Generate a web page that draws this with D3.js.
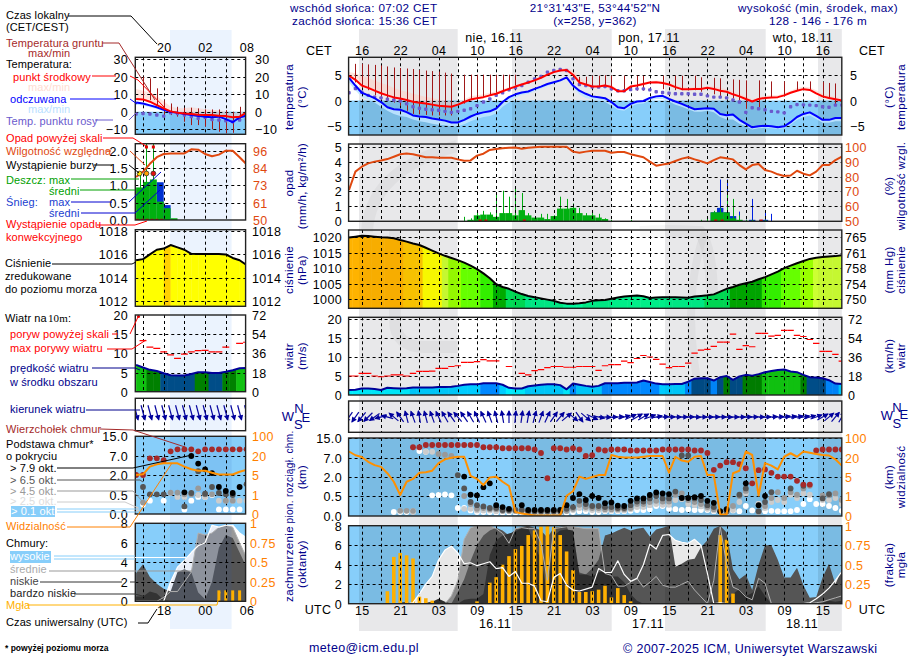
<!DOCTYPE html>
<html>
<head>
<meta charset="utf-8">
<script src="https://cdn.jsdelivr.net/npm/d3@7"></script>
<style>
  html, body { margin: 0; padding: 0; background: #fff; }
  svg text { font-family: "Liberation Sans", Arial, sans-serif; font-size: 12.5px; letter-spacing: .35px; }
  .axis path, .axis line { display: none; }
</style>
</head>
<body>
<svg id="chart" width="910" height="660"></svg>
<script>
// ---------- long forecast, one value per hour, hour 0 = 13 UTC 15.11 ----------
const temp = [4.8,4,2.9,2.45,1.9,1.4,1,.6,.4,.1,-.25,-.45,-.6,-.8,-1,-1.1,-1.2,-.8,-.3,.2,
  .45,.65,1,1.3,1.8,2.25,2.7,3.1,3.5,3.9,4.4,5,5.5,5.8,5.9,5,3.5,3.1,2.7,2.7,
  2.9,2.6,1.8,1.8,2.7,2.9,3.2,3.5,3.55,3.4,3.1,2.6,2.2,2.2,2.25,2.25,2.45,2.25,1.9,1.7,
  1.2,.8,.3,-.2,.3,.5,.6,.65,1,1.5,1.9,2.2,2.05,1.4,.8,.5,.25,0];
const tempMax = [5.5,5.3,4.8,4.4,3.9,3.4,3,2.4,2,1.7,1.3,1,.7,.5,.2,0,-.3,-.3,.2,.8,
  1,1.2,1.5,1.8,2.2,2.6,3,3.4,3.8,4.1,4.7,5.3,5.8,6.1,6.3,5.8,4.5,3.6,3.1,3,
  3.2,3,2.2,2.2,3,3.2,3.5,3.8,3.9,3.8,3.5,3,2.6,2.6,2.6,2.6,2.8,2.7,2.4,2.2,
  1.8,1.3,.8,.2,.6,.9,1,1,1.4,1.9,2.4,2.7,2.5,2,1.3,1,.7,.4];
const feel = [4.4,2.9,1.5,1,.45,-.3,-1.3,-1.7,-1.8,-2.25,-2.9,-3.1,-3.2,-3.5,-3.7,-3.9,-4.25,-4.25,-3.75,-3.1,
  -2.6,-2.3,-2.1,-1.55,-.3,.65,1.2,1.55,1.75,2.25,2.7,3.2,3.55,3.9,4.5,2.9,1.9,1.3,.8,.65,
  .45,-.3,-1.3,-1.5,-.65,-.2,-.1,.5,.8,.9,.3,-.2,-.65,-1.2,-1.7,-1.6,-1.5,-1.6,-2.6,-2.85,
  -2.7,-3.75,-4.5,-5.2,-5,-4.9,-5,-5.2,-5,-4.2,-3.2,-2.6,-2.3,-3,-3.75,-3.75,-3.4,-3.4];
const feelMin = [3.5,2,.7,.2,-.4,-1.2,-2,-2.6,-3,-3.2,-3.7,-4,-4.2,-4.5,-4.7,-4.8,-5,-5,-4.6,-4,
  -3.6,-3.2,-3,-2.5,-1.2,-.4,.6,1.1,1.3,1.8,2.3,2.8,3.2,3.6,4.1,2.4,1.2,.5,.2,0,
  -.3,-1,-1.8,-2,-1.2,-.7,-.6,0,.3,.3,-.2,-.8,-1.2,-1.7,-2.2,-2.2,-2,-2.3,-3.2,-3.7,
  -3.7,-4.5,-5,-5.6,-5.4,-5.3,-5.4,-5.5,-5.4,-4.7,-3.8,-3.2,-2.9,-3.6,-4.3,-4.3,-4,-4];
const dew = [1.5,2.3,1.6,1,.65,.5,.25,.1,-.1,-.65,-1.2,-1.5,-1.7,-1.8,-1.9,-2.1,-2.3,-2.1,-1.9,-1.6,
  -1,-.3,.3,1,1.5,2.05,2.45,2.9,3.55,4.2,4.65,5.5,5.8,6,5.8,4.2,3.1,2.9,2.6,2.6,
  2.7,2.25,1.9,1.9,2.1,2.25,2.25,2.05,1.7,1.55,1.4,1.3,1.3,1.3,1.2,1.2,.9,.65,.65,.5,
  .1,-.3,-2.3,-1.4,-1.6,-1.8,-2.1,-2.2,-2.4,-1.2,-.8,-.85,-.9,-1,-1.2,-1.3,-.9,-.9];
const groundMax = [null,7.1,7.1,7,6.9,6.8,6.6,6.4,6.3,6.2,6.1,5.9,5.8,5.7,5.6,5.4,5.2,null,5,5,
  5,5,5,5,5,5,5,null,null,null,null,null,null,null,null,null,4.6,4.6,4.8,4.8,
  4.9,4.8,null,4.8,null,4.8,4.8,null,null,4.8,null,4.8,4.8,null,4.8,4.5,null,4.4,4.3,null,
  4.1,4,3.9,null,3.9,null,3.7,null,3.7,null,3.7,null,3.7,null,3.6,3.4,3.3,null];
const groundMin = [null,3.5,2.5,2,1,.4,0,-.4,-1,-2,-2.6,-2.6,-2.8,-2.9,-2.9,-2.9,-2.9,null,-.6,.1,
  .5,.7,1.1,1.5,2,2.4,2.9,null,null,null,null,null,null,null,null,null,3.4,3,2.7,2.7,
  2.6,2.3,null,1.8,null,1.9,1.9,null,null,2.2,null,2,2,null,2,1.7,null,1.2,.8,null,
  .4,0,-1.6,null,-1.3,null,.5,null,.8,null,1.9,null,2,null,.5,.3,-1,null];

const humidity = [71,83.3,86.6,88.8,90,90.8,91.7,93.3,94.9,95.5,95,94,92.9,92.9,92.6,92.6,92.6,91.5,90.6,90.8,
  94,95.3,97.8,98.4,98.9,99.3,99.4,98.7,99.3,99.7,100,100,100,100,100,96.7,96,96.7,97.3,97.3,
  97.3,96,96.4,96.4,95,94,92.9,90,87.3,88,88.8,90.4,92,92.9,91.5,90.2,88.8,91,92.9,92.2,
  91.5,87.7,84.8,87.7,88.4,84.4,83.3,81.5,80.4,80.7,83.9,81.9,80.8,83.3,87.7,87.7,91,93.3];
const rainMean = [0,0,0,0,0,0,0,0,0,0,0,0,0,0,0,0,0,0,.02,.1,
  .4,.45,.45,.3,.55,.55,.4,.75,.4,.25,.25,.15,.35,.85,.85,.9,.55,.4,.4,.25,
  .15,.02,0,0,.02,0,0,0,0,0,0,0,0,0,0,0,.02,.6,.6,.6,
  .2,.1,0,.03,0,.03,0,0,0,0,0,0,0,0,0,0,0,0];
const rainMax = [0,0,0,0,0,0,0,0,0,0,0,0,0,0,0,0,0,0,.3,.2,
  .7,.7,.6,1.9,2.05,1.65,2.3,1.9,.55,.3,.5,.5,.4,1.65,1.5,1.2,.9,.55,.65,.5,
  .2,.1,0,0,.1,0,0,0,0,0,0,0,0,0,0,.1,.3,.7,.9,2,
  1.5,.4,.1,.1,.05,.1,0,0,0,0,0,0,0,0,0,0,0,0];
const snowMean = [0,0,0,0,0,0,0,0,0,0,0,0,0,0,0,0,0,0,0,0,
  0,0,0,0,0,0,0,0,0,0,0,0,0,0,0,0,0,0,0,0,
  0,0,0,0,0,0,0,0,0,0,0,0,0,0,0,0,0,.6,.9,.6,
  .35,.05,.03,.1,.02,.1,0,0,0,0,0,0,0,0,0,0,0,0];
const snowMax = [0,0,0,0,0,0,0,0,0,0,0,0,0,0,0,0,0,0,0,0,
  0,0,0,0,0,0,0,0,0,0,0,0,0,0,0,0,0,0,0,0,
  0,0,0,0,0,0,0,0,0,0,0,0,0,0,0,0,0,.3,2.8,2.8,
  .4,.65,.1,1.5,.1,.75,.5,0,0,0,0,0,0,0,0,0,0,0];
const convective = [20.5,21.4,27.4,57.3,58.3,64.4];

const pressure = [1019.9,1020.2,1020.5,1020.4,1020.2,1020,1019.9,1019.7,1019.1,1018.6,1018,1017.5,1016.6,1015.7,1014.8,1014,1013.3,1012.6,1011.8,1010.8,
  1009.7,1008.3,1006.7,1004.8,1003.9,1003.3,1002.4,1001.6,1001,1000.6,1000.2,999.8,999.4,998.8,998.5,998.5,998.6,998.9,999.4,999.6,
  999.7,1000.1,1000.5,1000.8,1001,1001.1,1000.9,1000.3,1000.5,1000.6,1000.6,1000.6,1000.5,1000.4,1000.8,1001,1001.2,1001.5,1002.4,1003.3,
  1003.9,1004.6,1005.1,1005.6,1006.4,1007.1,1008,1008.9,1010,1010.8,1011.6,1012.3,1013,1013.4,1013.6,1013.8,1013.9,1014.2];
const wind = [1.3,1.4,1.7,1.7,1.6,1.3,1.9,1.8,1.7,1.8,2,2,2,2,2.1,2.1,2.2,2.4,2.7,2.8,
  2.8,3.1,3.1,3.1,2.7,1.9,1.7,1.7,2.3,2.5,2.7,2.8,2.8,2.6,1.5,3,2.7,2.4,2.2,2.4,
  3.1,3.1,3.1,3.2,3.2,3.3,3.8,3.4,3,2.8,2.8,2.9,2.9,3.5,4.3,4.4,4.4,3.8,4.7,5,
  4,4.9,5.3,5.1,5.5,6,6.3,6.6,6.7,6.2,6,5.3,4.7,4.6,4.4,3.9,3,2.9];
const gust = [5,5,5.7,5.7,5,4.8,5,5.3,5.3,5,5.7,6.2,6.2,6.3,7,7,7.5,7.7,8.6,8.6,
  8.8,9.3,9,9,null,7.5,null,5.7,5.3,6.4,6.7,7.2,7.5,7.5,7.3,7.3,7.5,7.5,7.5,6.5,
  7.7,8,8,8.9,8.5,9.6,10.4,10,9.4,8.1,7.2,7.5,7.5,8.4,11,11.8,12,12.8,13.9,13.9,
  16,12,13,12.7,16.2,16.2,15.5,15.7,17,17,15.7,15.4,14.6,13.6,11.5,11.5,10.7,8.9];
const windDir = [215,215,220,225,235,255,285,310,325,345,340,350,345,340,335,330,325,320,325,330,
  335,335,340,345,350,0,5,8,10,15,20,25,35,40,50,130,145,130,115,100,
  95,90,85,75,65,60,60,70,80,85,88,90,90,88,92,90,90,88,90,92,
  90,90,88,88,90,88,85,85,82,82,80,80,75,70,60,50,40,30];

// cloud base heights in km, one list per cover class, null = no dot that hour
const cloudTop = [null,null,null,null,null,null,null,null,null,null,11.3,11.3,12.2,12.2,12.2,12.2,12.2,12.2,12.2,12.2,
  12.2,11.3,11.3,11.3,10.9,10.9,10.9,10.9,10.9,10.4,9,1.9,10.9,10.9,10.4,10.9,10.4,7.8,8.1,10.4,
  10,10.4,10.4,10.4,10,10,10,10,10,10.4,10.4,10.4,10.4,10.4,10,10,9,3.9,5,5.9,
  5.9,5.4,4.3,1.5,3.8,4,3.1,2.1,2.1,2.1,1.7,1.4,1.4,10,10.4,10.4,10.4,10.4];
const base79 = [null,null,null,null,null,null,null,null,null,null,null,null,null,null,null,null,null,null,2.1,.6,
  .55,1.2,1.5,.27,.22,.18,null,.27,.15,.15,.15,.15,.15,.15,.27,.45,.65,.4,.5,.45,
  .32,.34,.26,.25,.38,.44,.44,.58,.78,.7,.65,null,.45,.45,.47,.5,.38,.33,.12,.17,
  null,null,1.5,null,.27,.5,null,null,null,null,null,null,null,null,null,null,null,null];
const base65 = [null,null,null,null,null,null,null,null,null,null,null,null,null,null,null,null,null,2.5,1.1,.35,
  .27,.24,.2,.2,.15,.15,.15,.15,.12,.12,.12,.12,.12,.12,.18,.22,.38,.3,.25,.25,
  .22,.22,.2,.2,.27,.36,.36,.44,.5,.44,.44,.85,8,8,.44,.4,.27,.22,null,.12,
  null,.6,1.1,null,.12,.35,.8,null,null,1.1,null,1.3,null,null,.44,.65,null,null];
const base45 = [null,null,null,null,null,null,null,null,.13,.13,.13,null,null,null,8.6,8.3,7.8,null,.5,.3,
  .18,.2,.17,.17,.13,.13,.13,.13,.1,.1,.1,.1,.1,.1,.13,.18,.28,.22,.2,.2,
  .17,.17,.17,.17,.2,.3,.3,.35,.38,.36,.36,.6,.7,.4,.35,.3,.22,.17,null,.1,
  .25,.5,.9,null,.1,.25,.45,.8,.45,.8,.6,1.1,1.3,null,.55,.55,.7,.4];
const base25 = [null,null,null,null,null,null,null,null,null,null,.1,null,9.5,9.5,null,null,null,null,.18,.18,
  .14,.14,.14,.12,.12,.12,.12,.12,.1,.1,.1,.1,.1,.1,.12,.15,.2,.18,.15,.15,
  .14,.14,.14,.14,.17,.22,.22,.27,.3,.28,.28,.4,.42,.3,.27,.24,.18,.14,null,.1,
  .15,.35,.7,null,.3,.2,.35,.4,.35,.6,.45,.7,.6,null,.4,.4,.45,.3];
const base01 = [null,null,null,null,null,null,null,.1,.1,.1,.12,9.8,9.5,.55,.58,.62,.55,.2,.2,.14,
  .1,.1,.1,.09,.09,.09,.09,.09,.08,.08,.08,.08,.08,.08,.08,.1,.12,.12,.1,.1,
  .12,.12,.12,.12,.13,.15,.15,.17,.25,.25,.18,.17,.15,.17,.15,.15,.15,.12,null,.1,
  .14,.12,.25,.14,.3,.12,.13,.12,.12,.12,.15,.3,.42,.3,.3,.25,.2,.13];
const visibility = [46,31,24,17,14.4,13,8,4,1.2,4,4.6,8.3,8.7,10,16,19,21,25,25,5.9,
  4.6,3.3,4.9,5.3,4,3.1,.2,.12,.07,.03,.03,.03,.03,.03,1.05,2,5.3,4.6,5,6.5,
  6.5,32,25,22,22,22,25,28,28,28,8.4,25,18,17,25,28,6.5,6.5,.08,.08,
  8,9.9,46,32,1.1,16,14,11,25,39,25,46,41,36,32,30,19,14];

// cloud cover in oktas, fog as a fraction
const cloudHigh = [0,0,0,0,0,0,0,0,0,0,.1,1,2,2.8,4.5,5.5,5.9,5.2,4.1,4.2,
  3.9,4.1,4.3,3.6,3.7,2.8,3.3,2.1,2.1,1.8,.3,.2,2.7,3.1,1.9,1.4,1.3,1.5,1.7,3.6,
  3.2,3.2,4.4,3,2.3,2.6,4,6.1,5.6,7,7.1,6.5,6.3,6.2,6.6,6,3.1,0,.1,0,
  0,0,0,0,0,0,0,0,0,0,0,0,.1,.5,1,1.6,2.4,3.3];
const cloudMedium = [0,0,0,0,0,0,0,0,0,0,0,0,0,0,0,0,.8,2.4,6.6,7.8,
  8,8,8,7.7,7.2,6.2,7.7,7.8,7.7,7.7,6.2,2.4,7.7,7.8,7.9,7.9,7.8,7.7,7.7,7.7,
  3.1,2.9,1.8,1.8,2.2,2.6,1.7,2.2,2.8,1.9,1.7,1.7,2,2.3,1.4,.7,0,2.4,7.9,4.1,
  1.7,1.4,.7,.4,2.6,2.1,0,0,0,0,0,0,0,.1,.2,.4,.6,.8];
const cloudLow = [0,0,0,0,0,0,0,0,0,0,0,0,0,.1,.2,.1,0,1.2,2.5,4.4,
  6,7,7.5,7.8,7.5,7,7.6,7.9,8,7.8,7.5,6.8,7.8,7.9,8,6,3.2,3,3.6,4.5,
  7,7.2,7.5,7.8,7.5,7.7,7.8,6.9,7.6,7.8,8,3.8,4.1,4.5,4.6,5.8,6.5,7.7,8,7.3,
  3.5,2.5,3,1.4,4,6,6,4.5,2.7,2.7,3.7,1.9,.6,.7,2.7,4.1,2,3.5];
const cloudVeryLow = [0,0,0,0,0,0,0,0,.1,.2,0,0,.1,.2,.5,.2,0,0,.4,.5,
  .5,1,5,6.5,7,7.2,7.4,7.8,7.8,6,4.5,1,7,7.5,7.6,7.5,3,3,2.8,3.2,
  3.4,2.8,2.8,2.2,1,.3,0,0,0,0,0,0,0,0,0,0,0,.2,.2,.2,
  1,1.5,.8,1.1,1.8,.8,0,0,0,0,0,0,0,0,.1,.3,.2,.3];
const fog = [0,0,0,0,0,0,.16,.6,.65,.62,.58,.09,.07,.04,0,0,0,0,0,0,
  .03,0,.27,.34,.5,.61,.7,.74,.88,.94,.99,1,.98,.88,.67,.43,.15,.15,.16,.18,
  .23,.08,.2,.11,.03,0,0,0,0,0,0,0,0,0,0,0,0,0,.88,.82,
  .13,0,0,0,0,0,0,0,0,0,0,0,0,0,0,0,0,0];

const cetLabels = ['16','22','04','10','16','22','04','10','16','22','04','10','16'];
const utcLabels = ['15','21','03','09','15','21','03','09','15','21','03','09','15'];
const dayLabels = ['nie, 16.11','pon, 17.11','wto, 18.11'];
const dateLabels = ['16.11','17.11','18.11'];
const mmHgTicks = [750,754,758,761,765];
const visTicks = [0,1,5,20,100];
const cloudTicks = [0,.5,2,7,15];

// ---------- short forecast on the left, one value per hour, 14 .. 30 UTC ----------
const localTemp = [7.2,7,5.7,3.8,1.9,.2,-.6,-1,-1.3,-1.7,-1.9,-1.9,-2.3,-2.5,-3.2,-2.8,-.5];
const localTempMax = [13,12,11,9,6,3,2,2,2.5,2,1.5,1,1,0,-1,0,0];
const localFeel = [5.3,4.7,3.6,2.5,1.1,-.2,-.6,-1.3,-1.9,-2.5,-2.8,-3.2,-2.8,-4.2,-6,-3.2,-2.3];
const localFeelMin = [4,3.5,2.5,1.5,0,-1.2,-1.6,-2.3,-3,-3.5,-3.8,-4.2,-3.8,-5.2,-7,-4.2,-3.3];
const localDew = [-1.3,-1,-1.3,-1.9,-2.5,-.6,-1,-1.9,-2.8,-3.8,-3.2,-4.4,-4.7,-5.1,-5.7,-4.7,-4.4];
const localGroundMax = [null,19.9,19,13.3,6.6,4.7,2.8,2.3,2.3,1.9,1.3,1.3,1.3,.9,0,2.8,null];
const localGroundMin = [null,6.6,6.6,3.8,-1.9,-1.9,-2.8,-5.7,-7.6,-7.6,-8.5,-10,-11.4,-12.3,-12,-4.7,null];
const localHumidity = [78.5,82,87.3,91.7,93.8,94.2,94.2,94.2,96.9,96.7,93.8,92.3,93.4,96,96,91.7,87];
const localRainMean = [.94,1.1,1.17,.53,.34,.05,0,0,0,0,0,0,0,0,0,0,0];
const localSnowMean = [0,0,0,1.09,.43,0,0,0,0,0,0,0,0,0,0,0,0];
const localRainMax = [1.3,2.2,2.2,0,0,0,0,0,0,0,0,0,0,0,0,0,0];
const localOverScale = [15,16];
const localStorm = [14.5,15.5,16.5];
const localStormColors = ['#ffe000','#ffa000','#e01010'];
const localConvective = [14,14.7,15.4,16.1,16.8,17.5];
const localPressure = [1015.5,1015.6,1016,1016.4,1016.5,1016.8,1016.6,1016.4,1016.05,1016.03,1016.03,1016.03,1016.03,1016,1015.7,1015.5,1015.1];
const localWind = [7,6.3,5.7,5.4,4.8,4.3,4.2,4.2,4.6,5.1,5.1,4.9,4.9,5.2,5.6,6.1,6.2];
const localGust = [null,13.3,11.6,11.3,10.4,9.6,8.7,9.8,10.4,10.7,10.8,10.4,10.4,11.6,null,12.6,12.9];
const localWindDir = [165,165,165,165,165,165,165,165,165,165,165,165,165,165,165,165,165];
const localCloudTop = [2,2,6.4,6.4,5.9,8.9,9.7,9.7,9.7,8.9,9.7,9.7,9.7,9.7,9.7,9.7,9.7];
const localBase79 = [null,null,null,null,null,null,null,.7,7,5,3.5,2.5,1.1,.8,.65,1.1,null];
const localBase65 = [null,1.1,.55,.55,.55,null,null,.2,.65,3,.6,1.1,.65,.55,.5,null,1.3];
const localBase45 = [null,.3,null,null,null,.68,.68,.55,.55,1,.55,.55,null,.35,.35,null,null];
const localBase25 = [.12,null,null,null,null,.65,.45,.45,null,.5,.45,null,.35,.35,.35,.35,.35];
const localBase01 = [null,.25,.35,null,.35,null,null,.12,.35,.45,.45,.5,.12,.12,.12,.12,null];
const localVisibility = [5,5.5,11.6,13.4,14.2,14.2,14.2,11.6,9.5,8.4,8.4,6.8,5.4,5.4,5.4,7.6,9];
const localCloudHigh = [0,0,0,0,0,2,3.5,4.2,5,5.7,6,7.8,7.6,7.8,7.8,7,6.5];
const localCloudMedium = [0,0,0,0,.4,1,1,2,3,7,6.8,7,7.6,7.8,7.6,6,4.5];
const localCloudLow = [2.9,3.8,2.5,1.8,1.3,1,3,3.3,3,.9,.2,2,5.5,6.8,6.5,5,3.5];
const localCloudVeryLow = [.5,.5,1,.8,.1,0,0,0,0,0,0,0,0,0,0,0,0];
const localFog = [0,0,0,0,0,0,0,0,0,0,0,0,.14,.14,.14,.14,0];
const localCetLabels = ['20','02','08'];
const localUtcLabels = ['18','00','06'];

// ---------- scales ----------
const svg = d3.select('#chart');
const NAVY = '#00008b', RED = '#ff0000', BROWN = '#a52a2a', ORANGE = '#ff8000', RH = '#e0480f';
const NIGHT = [[359, 457.7], [512, 611.7], [665, 765.7], [818, 841.8]];

const hours = d3.range(temp.length);
const localHours = d3.range(14, 31);
const x = d3.scaleLinear().domain([0, 77]).range([349, 841.8]);
const xLocal = d3.scaleLinear().domain([15, 18]).range([143, 163.7]);

const gridMain = d3.range(2, 77, 3);
const gridLocal = [15,18,21,24,27];
const pressureColor = d3.scaleThreshold()
  .domain([998.8,1001.2,1003.5,1006.7,1009.7,1011.9,1013.4,1014.8,1017.5,1019.1])
  .range(['#00ffa0','#00ee88','#00dd55','#00aa00','#33ee00','#66ff00','#99ff00','#ccff33','#ffff00','#ffc800','#ffb300']);
const localPressureColor = d3.scaleThreshold().domain([1016.7]).range(['#ffff00','#ffd000']);
const windColor = d3.scaleThreshold()
  .domain([2,3,4,5,6])
  .range(['#00eeff','#00ccff','#0088ff','#004d88','#008000','#10c010']);

function clipFor(g, id, x0, x1, top, bottom) {
  svg.append('clipPath').attr('id', id).append('rect')
    .attr('x', x0).attr('y', top).attr('width', x1 - x0).attr('height', bottom - top);
  return g.attr('clip-path', `url(#${id})`);
}

// holder for one panel, panels are see-through so the night bands and logo show
function panel(id, xS, top, bottom) {
  const [x0, x1] = id.startsWith('l') ? [135.3, 245.6] : [348.6, 841.8];
  const g = clipFor(svg.append('g'), 'clip-' + id, x0, x1, top, bottom);
  return {
    id: id, x: xS, x0: x0, x1: x1, top: top, bottom: bottom,
    under: g.append('g'), tint: g.append('g'), mid: g.append('g'), grid: g.append('g'), over: g.append('g')
  };
}

// darkens a colour fill where a night band (or the local day band) crosses it
function tint(p, layer, alpha, top) {
  const y0 = top === undefined ? p.top : top;
  if (p.id.startsWith('l')) {
    layer.append('rect').attr('x', 170).attr('y', y0).attr('width', 61.6).attr('height', p.bottom - y0)
      .attr('fill', 'rgba(40,90,190,.1)');
  } else {
    NIGHT.forEach(b => {
      layer.append('rect').attr('x', b[0]).attr('y', y0).attr('width', b[1] - b[0]).attr('height', p.bottom - y0)
        .attr('fill', `rgba(0,0,0,${alpha})`);
    });
  }
}

function grid(p, xTicks, yPixels) {
  p.grid.selectAll('.gv').data(xTicks).join('line')
    .attr('x1', d => Math.round(p.x(d)) + .5).attr('x2', d => Math.round(p.x(d)) + .5)
    .attr('y1', p.top).attr('y2', p.bottom)
    .attr('stroke', '#000').attr('stroke-dasharray', '3,3');
  p.grid.selectAll('.gh').data(yPixels).join('line')
    .attr('y1', d => Math.round(d) + .5).attr('y2', d => Math.round(d) + .5)
    .attr('x1', p.x0).attr('x2', p.x1)
    .attr('stroke', '#000').attr('stroke-dasharray', '3,3');
}

function frame(p) {
  svg.append('rect').attr('x', p.x0).attr('y', p.top).attr('width', p.x1 - p.x0).attr('height', p.bottom - p.top)
    .attr('fill', 'none').attr('stroke', '#222').attr('stroke-width', 1.4);
}

function yAxis(scale, ticks, xPos, side, color, fmt) {
  const ax = (side === 'left' ? d3.axisLeft(scale) : d3.axisRight(scale))
    .tickValues(ticks).tickSize(0).tickPadding(0).tickFormat(fmt || d3.format('d'));
  const g = svg.append('g').attr('class', 'axis').attr('transform', `translate(${xPos},0)`).call(ax);
  g.selectAll('text').attr('fill', color || '#000').attr('dy', '.36em')
    .style('font-family', '"Liberation Sans"');
  g.select('.domain').remove();
}

function line(p, layer, values, xs, yS, color, width) {
  layer.append('path')
    .attr('d', d3.line().defined(d => d[1] != null).x(d => p.x(d[0])).y(d => yS(d[1]))(values.map((v, i) => [xs[i], v])))
    .attr('fill', 'none').attr('stroke', color).attr('stroke-width', width || 1.5).attr('stroke-linejoin', 'round');
}

function band(p, layer, low, high, xs, yS, color) {
  layer.append('path')
    .attr('d', d3.area().x(d => p.x(d[0])).y0(d => yS(d[1])).y1(d => yS(d[2]))(low.map((v, i) => [xs[i], v, high[i]])))
    .attr('fill', color);
}

// ---------- backgrounds ----------
NIGHT.forEach(b => {
  svg.append('rect').attr('x', b[0]).attr('y', 29).attr('width', b[1] - b[0]).attr('height', 602).attr('fill', '#e8e8ea');
});
svg.append('rect').attr('x', 170).attr('y', 30).attr('width', 61.6).attr('height', 599).attr('fill', '#ebf3fe');

// faint logo behind the panels
[['M395 230 L395 320 Q395 347 425 347 L458 347', 12], ['M367 232 Q370 170 457 146', 12],
 ['M640 232 Q665 230 700 232 Q712 250 712 300', 12], ['M705 232 Q680 300 700 395', 8]].forEach(s => {
  svg.append('path').attr('d', s[0]).attr('fill', 'none').attr('stroke', 'rgba(0,0,0,.035)').attr('stroke-width', s[1]);
});

// ---------- panel drawing, shared by both forecasts ----------
function drawTemp(p, y, xs, gridX, d) {
  p.under.append('rect').attr('x', p.x0).attr('y', y(0)).attr('width', p.x1 - p.x0).attr('height', p.bottom - y(0)).attr('fill', '#87cefa');
  tint(p, p.tint, .09, y(0));
  band(p, p.mid, d.temp, d.tempMax, xs, y, 'rgba(255,205,195,.55)');
  band(p, p.mid, d.feelMin, d.feel, xs, y, 'rgba(190,228,255,.9)');
  grid(p, gridX, d.gridY.map(y));
  xs.forEach((h, i) => {
    if (d.gMax[i] == null) return;
    const sx = Math.round(p.x(h)) + .5;
    p.over.append('line').attr('x1', sx).attr('x2', sx).attr('y1', y(d.gMax[i])).attr('y2', y(d.gMin[i]))
      .attr('stroke', '#a01818').attr('stroke-width', 1);
  });
  p.over.selectAll('.dew').data(d.dew).join('rect')
    .attr('x', (v, i) => p.x(xs[i]) - 1.7).attr('y', v => y(v) - 1.7).attr('width', 3.4).attr('height', 3.4)
    .attr('rx', 1).attr('fill', '#6a5acd');
  line(p, p.over, d.feel, xs, y, '#0000ff', 2);
  line(p, p.over, d.temp, xs, y, '#ff0000', 2);
}

function drawWind(p, y, xs, gridX, d, colorFn) {
  const id = 'area-' + p.id;
  svg.append('clipPath').attr('id', id).append('path')
    .attr('d', d3.area().x(v => p.x(v[0])).y0(p.bottom).y1(v => y(v[1]))(d.wind.map((v, i) => [xs[i], v])));
  const cg = p.under.append('g').attr('clip-path', `url(#${id})`);
  cg.selectAll('rect').data(d.wind).join('rect')
    .attr('x', (v, i) => p.x(xs[i] - .5)).attr('width', (p.x(1) - p.x(0)) + .5)
    .attr('y', p.top).attr('height', p.bottom - p.top)
    .attr('fill', v => colorFn(v));
  if (!p.id.startsWith('l')) tint(p, cg, .03);
  grid(p, gridX, d.gridY.map(y));
  d.gust.forEach((v, i) => {
    if (v == null) return;
    p.over.append('line').attr('x1', p.x(xs[i] - .5)).attr('x2', p.x(xs[i] + .5)).attr('y1', y(v)).attr('y2', y(v))
      .attr('stroke', '#ff0000').attr('stroke-width', 1.2);
  });
  line(p, p.over, d.wind, xs, y, '#000099', 2);
}

function drawArrows(p, dirs, xs, yc, len) {
  grid(p, p.gridX, []);
  dirs.forEach((dir, i) => {
    const a = p.over.append('g').attr('transform', `translate(${p.x(xs[i])},${yc}) rotate(${dir})`);
    a.append('line').attr('y1', len / 2).attr('y2', -len / 2).attr('stroke', '#0808a0').attr('stroke-width', 1.2);
    a.append('path').attr('d', `M-2.8,${-len / 2 + 4.5} L0,${-len / 2 - 1} L2.8,${-len / 2 + 4.5} Z`).attr('fill', '#00009c');
  });
}

function drawCloudBase(p, y, yVis, xs, gridX, d) {
  tint(p, p.tint, .09);
  grid(p, gridX, cloudTicks.map(y));
  [[d.b01, '#ffffff'], [d.b25, '#cccccc'], [d.b45, '#999999'], [d.b65, '#555555'], [d.b79, '#000000'], [d.top, '#a52a2a']]
    .forEach(s => {
      s[0].forEach((v, i) => {
        if (v == null) return;
        p.over.append('circle').attr('cx', p.x(xs[i])).attr('cy', y(v)).attr('r', 2.9).attr('fill', s[1]);
      });
    });
  line(p, p.over, d.vis, xs, yVis, '#ff9000', 2);
}

function drawClouds(p, y, yFog, xs, gridX, d, barW) {
  const area = vals => d3.area().x(v => p.x(v[0])).y0(p.bottom).y1(v => y(v[1]))(vals.map((v, i) => [xs[i], v]));
  p.under.append('path').attr('d', area(d.high)).attr('fill', '#fff');
  p.under.append('path').attr('d', area(d.medium)).attr('fill', '#999');
  p.under.append('path').attr('d', area(d.low)).attr('fill', '#555');
  p.under.append('path').attr('d', area(d.veryLow)).attr('fill', '#333');
  tint(p, p.tint, .09);
  p.mid.selectAll('rect').data(d.fog).join('rect')
    .attr('x', (v, i) => p.x(xs[i]) - barW / 2).attr('width', barW)
    .attr('y', v => yFog(v)).attr('height', v => p.bottom - yFog(v))
    .attr('fill', '#ffb000');
  grid(p, gridX, [2,4,6].map(y));
  line(p, p.over, d.medium, xs, y, '#b0b0b0', 1);
  line(p, p.over, d.high, xs, y, '#ffffff', 1.2);
}

function bars(p, layer, vals, xs, yS, color, off) {
  layer.selectAll(null).data(vals).join('rect')
    .attr('x', (v, i) => p.x(xs[i] + off - .5)).attr('width', p.x(1) - p.x(0))
    .attr('y', v => yS(v)).attr('height', v => p.bottom - yS(v)).attr('fill', color);
}
function spikes(p, layer, vals, xs, yS, color, off) {
  layer.selectAll(null).data(vals.map((v, i) => [xs[i], v]).filter(v => v[1] > 0)).join('line')
    .attr('x1', v => Math.round(p.x(v[0] + off)) + .5).attr('x2', v => Math.round(p.x(v[0] + off)) + .5)
    .attr('y1', v => yS(v[1])).attr('y2', p.bottom).attr('stroke', color).attr('stroke-width', 1);
}

// ---------- main panels ----------
const pTemp = panel('mTemp', x, 57.3, 135);
const yTemp = d3.scaleLinear().domain([-5, 5]).range([126.3, 74.7]);
drawTemp(pTemp, yTemp, hours, gridMain, { temp, tempMax, feel, feelMin, dew, gMax: groundMax, gMin: groundMin, gridY: [-5, 0, 5] });
yAxis(yTemp, [-5, 0, 5], 342, 'left');
yAxis(yTemp, [-5, 0, 5], 850, 'right');

const pRain = panel('mRain', x, 144, 221.3);
const yRain = d3.scaleLinear().domain([0, 5]).range([221.3, 146.7]);
const yRH = d3.scaleLinear().domain([50, 100]).range([221.3, 146.7]);
spikes(pRain, pRain.mid, snowMax, hours, yRain, '#0020e0', 0);
bars(pRain, pRain.mid, snowMean, hours, yRain, '#0030d0', 0);
spikes(pRain, pRain.mid, rainMax, hours, yRain, '#00aa10', 0);
bars(pRain, pRain.mid, rainMean, hours, yRain, '#00b010', 0);
grid(pRain, gridMain, [1, 2, 3, 4, 5].map(yRain));
line(pRain, pRain.over, humidity, hours, yRH, RH, 2);
pRain.over.selectAll('.cv').data(convective).join('rect')
  .attr('x', d => x(d) - 1.5).attr('y', 219.5).attr('width', 3).attr('height', 2).attr('fill', '#e00000');
yAxis(yRain, [0, 1, 2, 3, 4, 5], 342, 'left');
yAxis(yRH, [50, 60, 70, 80, 90, 100], 845, 'right', RH);

const pPres = panel('mPres', x, 230, 308.3);
const yPres = d3.scaleLinear().domain([1000, 1020]).range([299, 237.3]);
const yMmHg = d3.scaleLinear().domain(mmHgTicks).range([299, 283.6, 268.2, 252.7, 237.3]);
svg.append('clipPath').attr('id', 'area-mPres').append('path')
  .attr('d', d3.area().x((d, i) => x(i)).y0(308.3).y1(d => yPres(d))(pressure));
const presFill = pPres.under.append('g').attr('clip-path', 'url(#area-mPres)');
presFill.selectAll('rect').data(pressure).join('rect')
  .attr('x', (d, i) => x(i - .5)).attr('width', x(1) - x(0) + .5).attr('y', 230).attr('height', 79)
  .attr('fill', d => pressureColor(d));
tint(pPres, presFill, .03);
grid(pPres, gridMain, [1000, 1005, 1010, 1015, 1020].map(yPres));
line(pPres, pPres.over, pressure, hours, yPres, '#000', 2);
yAxis(yPres, [1000, 1005, 1010, 1015, 1020], 342, 'left');
yAxis(yMmHg, mmHgTicks, 845, 'right');

const pWind = panel('mWind', x, 317.3, 395);
const yWind = d3.scaleLinear().domain([0, 20]).range([395, 319]);
const yKmh = d3.scaleLinear().domain([0, 72]).range([395, 319]);
drawWind(pWind, yWind, hours, gridMain, { wind, gust, gridY: [5, 10, 15, 20] }, windColor);
yAxis(yWind, [0, 5, 10, 15, 20], 342, 'left');
yAxis(yKmh, [0, 18, 36, 54, 72], 848, 'right');

const pDir = panel('mDir', x, 401, 432.3);
pDir.gridX = gridMain;
drawArrows(pDir, windDir, hours, 417, 12);

const pBase = panel('mBase', x, 438, 516);
const yBase = d3.scaleLinear().domain(cloudTicks).range([516, 496, 477, 458, 438]);
const yVis = d3.scaleLinear().domain(visTicks).range([516, 496, 477, 458, 438]);
pBase.under.append('rect').attr('x', 348).attr('y', 438).attr('width', 494).attr('height', 78).attr('fill', '#87cefa');
drawCloudBase(pBase, yBase, yVis, hours, gridMain,
  { top: cloudTop, b79: base79, b65: base65, b45: base45, b25: base25, b01: base01, vis: visibility });
yAxis(yBase, cloudTicks, 342, 'left', '#000', d3.format('.1f'));
yAxis(yVis, visTicks, 845, 'right', ORANGE);

const pCloud = panel('mCloud', x, 525.7, 603.7);
const yCloud = d3.scaleLinear().domain([0, 8]).range([603.7, 525.7]);
const yFog = d3.scaleLinear().domain([0, 1]).range([603.7, 525.7]);
pCloud.under.append('rect').attr('x', 348).attr('y', 525).attr('width', 494).attr('height', 79).attr('fill', '#87cefa');
drawClouds(pCloud, yCloud, yFog, hours, gridMain,
  { high: cloudHigh, medium: cloudMedium, low: cloudLow, veryLow: cloudVeryLow, fog }, 3.6);
yAxis(yCloud, [0, 2, 4, 6, 8], 342, 'left');
yAxis(yFog, [0, .25, .5, .75, 1], 845, 'right', ORANGE, d3.format('~g'));

[pTemp, pRain, pPres, pWind, pDir, pBase, pCloud].forEach(frame);

// ---------- left panels ----------
const lTemp = panel('lTemp', xLocal, 57.3, 134.3);
const yTempL = d3.scaleLinear().domain([-10, 30]).range([129.3, 59]);
drawTemp(lTemp, yTempL, localHours, gridLocal, { temp: localTemp, tempMax: localTempMax, feel: localFeel, feelMin: localFeelMin,
  dew: localDew, gMax: localGroundMax, gMin: localGroundMin, gridY: [-10, 0, 10, 20, 30] });
yAxis(yTempL, [-10, 0, 10, 20, 30], 128, 'left');
yAxis(yTempL, [-10, 0, 10, 20, 30], 255, 'right');

const lRain = panel('lRain', xLocal, 143.7, 220);
const yRainL = d3.scaleLinear().domain([0, 2]).range([220, 150.7]);
const yRHL = d3.scaleLinear().domain([50, 96]).range([220, 150.7]);
const yRHTick = d3.scaleLinear().domain([50, 61, 73, 84, 96]).range([220, 202.7, 185.3, 168.3, 150.7]);
bars(lRain, lRain.mid, localSnowMean, localHours, yRainL, '#0030d0', .5);
spikes(lRain, lRain.mid, localRainMax, localHours, yRainL, '#00a010', .5);
bars(lRain, lRain.mid, localRainMean, localHours, yRainL, '#00b010', .5);
grid(lRain, gridLocal, [.5, 1, 1.5, 2].map(yRainL));
line(lRain, lRain.over, localHumidity, localHours, yRHL, RH, 2);
lRain.over.selectAll('.ov').data(localOverScale).join('rect')
  .attr('x', d => xLocal(d + .5) - 1.5).attr('y', 145.5).attr('width', 3).attr('height', 3).attr('fill', '#e00000');
lRain.over.selectAll('.st').data(localStorm).join('circle')
  .attr('cx', d => xLocal(d)).attr('cy', 173.5).attr('r', 2.4)
  .attr('fill', (d, i) => localStormColors[i]).attr('stroke', '#222').attr('stroke-width', .7);
lRain.over.selectAll('.cv').data(localConvective).join('rect')
  .attr('x', d => xLocal(d)).attr('y', 218.8).attr('width', 3).attr('height', 1.6).attr('fill', '#e00000');
yAxis(yRainL, [0, .5, 1, 1.5, 2], 128, 'left', '#000', d3.format('.1f'));
yAxis(yRHTick, [50, 61, 73, 84, 96], 253, 'right', RH);

const lPres = panel('lPres', xLocal, 229.7, 306.3);
const yPresL = d3.scaleLinear().domain([1012, 1018]).range([301.3, 231]);
svg.append('clipPath').attr('id', 'area-lPres').append('path')
  .attr('d', d3.area().x((d, i) => xLocal(localHours[i])).y0(306.3).y1(d => yPresL(d))(localPressure));
lPres.under.append('g').attr('clip-path', 'url(#area-lPres)').selectAll('rect').data(localPressure).join('rect')
  .attr('x', (d, i) => xLocal(localHours[i] - 1)).attr('width', 7.2).attr('y', 229).attr('height', 78)
  .attr('fill', d => localPressureColor(d));
grid(lPres, gridLocal, [1012, 1014, 1016, 1018].map(yPresL));
line(lPres, lPres.over, localPressure, localHours, yPresL, '#000', 2);
yAxis(yPresL, [1012, 1014, 1016, 1018], 128, 'left');
yAxis(yPresL, [1012, 1014, 1016, 1018], 252, 'right');

const lWind = panel('lWind', xLocal, 315, 391.7);
const yWindL = d3.scaleLinear().domain([0, 20]).range([391.7, 315]);
const yKmhL = d3.scaleLinear().domain([0, 72]).range([391.7, 315]);
drawWind(lWind, yWindL, localHours, gridLocal, { wind: localWind, gust: localGust, gridY: [5, 10, 15] }, windColor);
lWind.over.append('circle').attr('cx', 138.5).attr('cy', 316.5).attr('r', 1.5).attr('fill', '#e00000');
yAxis(yWindL, [0, 5, 10, 15, 20], 128, 'left');
yAxis(yKmhL, [0, 18, 36, 54, 72], 252, 'right');

const lDir = panel('lDir', xLocal, 398.3, 430.7);
lDir.gridX = gridLocal;
drawArrows(lDir, localWindDir, localHours, 412.5, 15);

const lBase = panel('lBase', xLocal, 436.3, 514);
const yBaseL = d3.scaleLinear().domain(cloudTicks).range([514, 495, 475, 456, 436.3]);
const yVisL = d3.scaleLinear().domain(visTicks).range([514, 495, 475, 456, 436.3]);
lBase.under.append('rect').attr('x', 135).attr('y', 436).attr('width', 111).attr('height', 78).attr('fill', '#87cefa');
drawCloudBase(lBase, yBaseL, yVisL, localHours, gridLocal,
  { top: localCloudTop, b79: localBase79, b65: localBase65, b45: localBase45, b25: localBase25, b01: localBase01, vis: localVisibility });
yAxis(yBaseL, cloudTicks, 128, 'left', '#000', d3.format('.1f'));
yAxis(yVisL, visTicks, 252, 'right', ORANGE);

const lCloud = panel('lCloud', xLocal, 523.3, 601.3);
const yCloudL = d3.scaleLinear().domain([0, 8]).range([601.3, 523.3]);
const yFogL = d3.scaleLinear().domain([0, 1]).range([601.3, 523.3]);
lCloud.under.append('rect').attr('x', 135).attr('y', 523).attr('width', 111).attr('height', 79).attr('fill', '#87cefa');
drawClouds(lCloud, yCloudL, yFogL, localHours, gridLocal,
  { high: localCloudHigh, medium: localCloudMedium, low: localCloudLow, veryLow: localCloudVeryLow, fog: localFog }, 3);
yAxis(yCloudL, [0, 2, 4, 6, 8], 128, 'left');
yAxis(yFogL, [0, .25, .5, .75, 1], 250, 'right', ORANGE, d3.format('~g'));

[lTemp, lRain, lPres, lWind, lDir, lBase, lCloud].forEach(frame);

// ---------- time axes ----------
function timeAxis(labels, ticks, scale, y) {
  const ax = d3.axisTop(scale).tickValues(ticks).tickSize(0).tickPadding(0).tickFormat((d, i) => labels[i]);
  const g = svg.append('g').attr('class', 'axis').attr('transform', `translate(0,${y})`).call(ax);
  g.select('.domain').remove();
  g.selectAll('text').attr('fill', '#000').attr('dy', 0).attr('text-anchor', 'middle');
}
const mainTicks = d3.range(2, 77, 6);
timeAxis(cetLabels, mainTicks, x, 55);
timeAxis(utcLabels, mainTicks, x, 615);
timeAxis(localCetLabels, [18, 24, 30], xLocal, 52);
timeAxis(localUtcLabels, [18, 24, 30], xLocal, 615);

// ---------- text ----------
function label(txt, px, py, color, anchor, size) {
  const t = svg.append('text').attr('x', px).attr('y', py).attr('fill', color || '#000')
    .attr('text-anchor', anchor || 'start').text(txt);
  if (size) t.style('font-size', size + 'px');
  return t;
}
function vlabel(txt, px, cy, size) {
  svg.append('text').attr('transform', `translate(${px},${cy}) rotate(-90)`).attr('fill', NAVY)
    .attr('text-anchor', 'middle').style('font-size', (size || 11.5) + 'px').text(txt);
}
function legend(txt, px, py, color) {
  return label(txt, px, py, color, 'start', 11).style('letter-spacing', '.1px');
}
function leader(points, color, width) {
  svg.append('path').attr('d', d3.line()(points)).attr('fill', 'none').attr('stroke', color).attr('stroke-width', width || 1);
}

label('wschód słońca: 07:02 CET', 290, 12, NAVY, 'start', 11.7);
label('zachód słońca: 15:36 CET', 292, 25, NAVY, 'start', 11.7);
label('21°31\'43"E, 53°44\'52"N', 595, 12, NAVY, 'middle', 11.7);
label('(x=258,  y=362)', 595, 25, NAVY, 'middle', 11.7);
label('wysokość (min, środek, max)', 818, 12, NAVY, 'middle', 11.7);
label('128 - 146 - 176 m', 818, 25, NAVY, 'middle', 11.7);
[494, 649, 803].forEach((px, i) => label(dayLabels[i], px, 42, '#000', 'middle'));
[495, 648, 802].forEach((px, i) => label(dateLabels[i], px, 628, '#000', 'middle'));
label('CET', 319, 55, '#000', 'middle');
label('CET', 872, 55, '#000', 'middle');
label('UTC', 318, 614, '#000', 'middle');
label('UTC', 872, 614, '#000', 'middle');
label('meteo@icm.edu.pl', 309, 652, NAVY);
label('© 2007-2025 ICM, Uniwersytet Warszawski', 623, 653, NAVY);

vlabel('temperatura', 292.5, 97); vlabel('(°C)', 305.5, 97);
vlabel('opad', 292.5, 183); vlabel('(mm/h, kg/m²/h)', 305.5, 186);
vlabel('ciśnienie', 292.5, 270); vlabel('(hPa)', 305.5, 270);
vlabel('wiatr', 292.5, 356); vlabel('(m/s)', 305.5, 356);
vlabel('pion. rozciągł. chm.', 292.5, 477, 10); vlabel('(km)', 305.5, 477);
vlabel('zachmurzenie', 292.5, 564); vlabel('(oktanty)', 305.5, 564);
vlabel('temperatura', 905, 97); vlabel('(°C)', 893, 97);
vlabel('wilgotność wzgl.', 905, 186); vlabel('(%)', 893, 186);
vlabel('ciśnienie', 905, 270); vlabel('(mm Hg)', 893, 270);
vlabel('wiatr', 905, 356); vlabel('(km/h)', 893, 356);
vlabel('widzialność', 905, 477); vlabel('(km)', 893, 477);
vlabel('mgła', 905, 565); vlabel('(frakcja)', 893, 565);

[[288, 421, 'W'], [299, 413, 'N'], [306, 422, 'E'], [298.5, 429, 'S'],
 [887, 420, 'W'], [897, 412, 'N'], [904, 419, 'E'], [897, 428, 'S']].forEach(c => {
  label(c[2], c[0], c[1], NAVY, 'middle', 13);
});

// legend column on the left
legend('Czas lokalny', 6, 19); legend('(CET/CEST)', 6, 31);
leader([[68, 16], [131, 16], [157, 44]], '#000');
legend('Temperatura gruntu', 6, 47, BROWN); legend('max/min', 28, 57, BROWN);
leader([[102, 43], [119, 43], [155, 100]], BROWN);
legend('Temperatura:', 6, 68);
legend('punkt środkowy', 13, 81, RED);
leader([[92, 76], [116, 76]], RED); leader([[130, 76], [138, 80], [165, 108]], RED);
legend('max/min', 28, 91, '#ffdcd2');
legend('odczuwana', 10, 103, '#0000ff');
leader([[70, 99], [116, 99]], '#0000ff'); leader([[130, 99], [137, 104]], '#0000ff');
legend('max/min', 28, 113, '#b8e0ff');
legend('Temp. punktu rosy', 6, 125, '#6a5acd');
leader([[95, 120], [113, 120]], '#6a5acd'); leader([[129, 120], [136, 113]], '#6a5acd');
legend('Opad powyżej skali', 6, 142, RED);
leader([[103, 138], [133, 138], [146, 146]], RED);
legend('Wilgotność względna', 6, 155, RH);
leader([[105, 151], [111, 151]], RH); leader([[130, 151], [145, 165]], RH);
legend('Wystąpienie burzy', 6, 169);
leader([[94, 165], [112, 165]], '#000'); leader([[129, 165], [139, 173]], '#000');
legend('Deszcz:', 6, 184, '#00a000'); legend('max', 49, 184, '#00a000');
leader([[71, 179], [139, 179]], '#00a000');
legend('średni', 49, 195, '#00a000');
leader([[80, 190], [135, 190]], '#00a000');
legend('Śnieg:', 6, 206, '#2040d0'); legend('max', 49, 206, '#2040d0');
leader([[71, 202], [112, 202]], '#0000d0'); leader([[129, 202], [161, 172]], '#0000d0');
legend('średni', 49, 217, '#2040d0');
leader([[81, 213], [135, 213], [160, 190]], '#0000d0');
legend('Wystąpienie opadu', 6, 228, RED);
leader([[97, 225], [135, 225], [147, 221]], RED);
legend('konwekcyjnego', 6, 241, RED);
legend('Ciśnienie', 5, 267); legend('zredukowane', 5, 280); legend('do poziomu morza', 5, 293);
leader([[52, 264], [132, 264], [136, 262]], '#000');
legend('Wiatr na', 5, 322); legend('10m', 48, 322).style('font-family', '"Liberation Serif"'); legend(':', 68, 322);
legend('poryw powyżej skali', 10, 338, RED);
leader([[112, 334], [118, 334]], RED); leader([[130, 334], [138, 317]], RED);
legend('max porywy wiatru', 10, 352, RED);
leader([[107, 349], [132, 349], [146, 340]], RED);
legend('prędkość wiatru', 10, 372, NAVY); legend('w środku obszaru', 10, 386, NAVY);
leader([[92, 368], [135, 368], [140, 370]], NAVY);
legend('kierunek wiatru', 10, 413, NAVY);
leader([[86, 410], [140, 410]], NAVY);
legend('Wierzchołek chmur', 6, 433, BROWN);
leader([[100, 429], [133, 430], [185, 447]], BROWN);
legend('Podstawa chmur*', 6, 448); legend('o pokryciu', 6, 460);
legend('> 7.9 okt.', 10, 472);
leader([[57, 468], [133, 468], [192, 455]], '#000');
legend('> 6.5 okt.', 10, 484, '#555');
leader([[57, 480], [140, 480], [143, 482]], '#555');
legend('> 4.5 okt.', 10, 495, '#999');
leader([[57, 491], [133, 491], [143, 502]], '#999');
legend('> 2.5 okt.', 10, 505, '#ddd');
leader([[57, 502], [125, 502], [136, 507]], '#ccc');
svg.append('rect').attr('x', 11).attr('y', 506).attr('width', 44).attr('height', 11).attr('fill', '#87cefa');
legend('> 0.1 okt.', 11, 515, '#fff');
leader([[57, 509], [140, 509]], '#87cefa'); leader([[57, 512], [140, 512]], '#87cefa');
legend('Widzialność', 6, 530, ORANGE);
leader([[67, 527], [130, 527], [172, 463]], ORANGE);
legend('Chmury:', 6, 547);
svg.append('rect').attr('x', 10).attr('y', 551).attr('width', 41).attr('height', 12).attr('fill', '#87cefa');
legend('wysokie', 10, 560, '#fff');
leader([[54, 556], [135, 556]], '#87cefa'); leader([[54, 559], [135, 559]], '#87cefa');
leader([[135, 557.5], [186, 557.5]], '#fff');
legend('średnie', 10, 573, '#aaa');
leader([[49, 571], [192, 571]], '#999');
legend('niskie', 10, 585, '#444');
leader([[40, 582], [122, 582]], '#333'); leader([[130, 582], [136, 582]], '#333');
legend('bardzo niskie', 10, 597, '#222');
leader([[74, 594], [135, 594], [150, 598]], '#333');
legend('Mgła', 6, 609, '#ffb000');
leader([[27, 605], [217, 605], [220, 592]], '#ffb000');
legend('Czas uniwersalny (UTC)', 6, 626);
leader([[138, 623], [148, 623], [157, 609]], '#000');
label('* powyżej poziomu morza', 5, 651, '#000', 'start', 8.5).style('font-weight', 'bold').style('letter-spacing', '0');
</script>
</body>
</html>
